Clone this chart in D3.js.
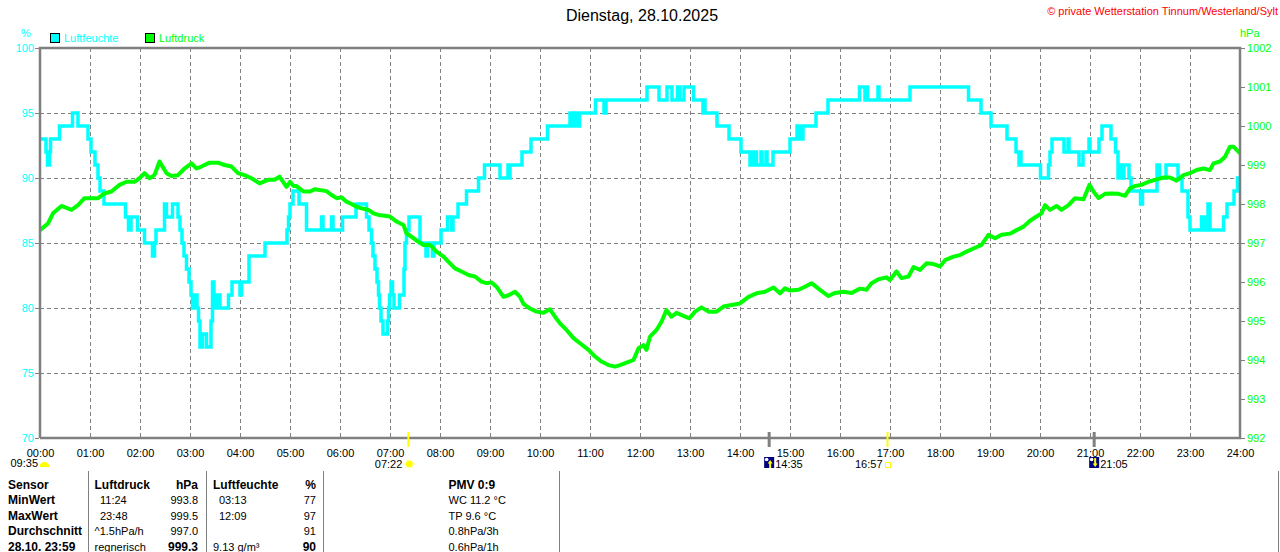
<!DOCTYPE html>
<html>
<head>
<meta charset="utf-8">
<script src="https://cdn.jsdelivr.net/npm/d3@7"></script>
<style>
  body { margin: 0; background: #fff; }
  svg text { font-family: "Liberation Sans", Arial, sans-serif; }
</style>
</head>
<body>
<div id="chart"></div>
<script>
const titleText = "Dienstag, 28.10.2025";
const copyrightText = "\u00a9 private Wetterstation Tinnum/Westerland/Sylt";
const hourLabels = d3.range(0, 25).map(h => String(h).padStart(2, '0') + ':00');
const humidityTicks = [70, 75, 80, 85, 90, 95, 100];
const pressureTicks = [992, 993, 994, 995, 996, 997, 998, 999, 1000, 1001, 1002];

// [hour, %] humidity steps
const humidity = [
  [0.00,93],[0.12,92],[0.15,91],[0.19,92],[0.21,93],[0.39,94],[0.65,95],[0.76,94],[0.96,93],
  [1.02,92],[1.10,91],[1.16,90],[1.20,89],[1.28,88],[1.71,87],[1.77,86],[1.82,87],[1.95,86],
  [2.09,85],[2.25,84],[2.29,85],[2.32,86],[2.49,88],[2.53,87],[2.65,88],[2.76,87],[2.80,86],
  [2.84,85],[2.88,84],[2.93,83],[2.98,82],[3.02,81],[3.05,80],[3.10,81],[3.14,80],[3.17,79],
  [3.20,77],[3.25,78],[3.33,77],[3.42,79],[3.45,82],[3.48,81],[3.51,80],[3.56,81],[3.60,80],
  [3.77,81],[3.84,82],[4.00,81],[4.03,82],[4.18,84],[4.50,85],[4.94,86],[4.97,87],[5.00,88],
  [5.06,89],[5.18,88],[5.33,86],[5.63,87],[5.66,86],[5.83,87],[5.86,86],[6.05,87],[6.32,88],
  [6.53,87],[6.58,86],[6.63,85],[6.66,84],[6.70,83],[6.74,82],[6.77,81],[6.79,80],[6.82,79],
  [6.86,78],[6.95,79],[6.97,80],[6.99,81],[7.02,82],[7.05,81],[7.08,80],[7.19,81],[7.28,83],
  [7.30,85],[7.33,86],[7.38,87],[7.60,85],[7.72,84],[7.75,85],[7.85,84],[7.88,85],[8.02,86],
  [8.15,87],[8.23,86],[8.26,87],[8.36,88],[8.53,89],[8.77,90],[8.89,91],[9.20,90],[9.36,91],
  [9.38,90],[9.40,91],[9.64,92],[9.82,93],[10.15,94],[10.60,95],[10.62,94],[10.66,95],[10.70,94],
  [10.74,95],[10.76,94],[10.79,95],[11.11,96],[11.28,95],[11.32,96],[12.14,97],[12.38,96],
  [12.54,97],[12.64,96],[12.75,97],[12.80,96],[12.88,97],[13.07,96],[13.26,95],[13.28,96],
  [13.30,95],[13.54,94],[13.78,93],[14.02,92],[14.20,91],[14.24,92],[14.26,91],[14.30,92],
  [14.33,91],[14.42,92],[14.44,91],[14.52,92],[14.54,91],[14.66,92],[15.00,93],[15.14,94],
  [15.16,93],[15.20,94],[15.22,93],[15.26,94],[15.52,95],[15.76,96],[16.39,97],[16.50,96],
  [16.53,97],[16.55,96],[16.76,97],[16.78,96],[17.40,97],[18.57,96],[18.82,95],[19.02,94],
  [19.34,93],[19.52,92],[19.58,91],[19.60,92],[19.62,91],[20.01,90],[20.17,91],[20.20,92],
  [20.24,93],[20.48,92],[20.56,93],[20.58,92],[20.78,91],[20.86,92],[20.98,93],[21.00,92],
  [21.18,93],[21.24,94],[21.42,93],[21.51,92],[21.56,90],[21.62,91],[21.64,90],[21.68,91],
  [21.78,90],[21.82,89],[22.01,88],[22.05,89],[22.34,91],[22.39,90],[22.52,91],[22.76,90],
  [22.84,89],[22.96,87],[23.00,86],[23.23,87],[23.30,86],[23.36,88],[23.40,86],[23.67,87],
  [23.74,88],[23.88,89],[23.95,90],[24.00,90]
];

// [hour, hPa]
const pressure = [
  [0.00,997.33],[0.16,997.50],[0.26,997.76],[0.43,997.95],[0.63,997.85],[0.76,997.97],[0.89,998.15],
  [1.16,998.15],[1.29,998.27],[1.43,998.32],[1.59,998.49],[1.73,998.57],[1.89,998.57],[1.99,998.66],
  [2.09,998.79],[2.19,998.66],[2.29,998.74],[2.39,999.09],[2.53,998.79],[2.63,998.72],[2.76,998.74],
  [2.89,998.91],[3.03,999.04],[3.13,998.91],[3.23,998.96],[3.39,999.06],[3.56,999.06],[3.69,999.00],
  [3.83,998.96],[3.96,998.79],[4.09,998.74],[4.23,998.66],[4.39,998.53],[4.56,998.62],[4.69,998.62],
  [4.79,998.70],[4.93,998.44],[5.00,998.57],[5.07,998.46],[5.13,998.46],[5.27,998.32],[5.40,998.32],
  [5.50,998.38],[5.63,998.35],[5.73,998.33],[5.83,998.23],[5.93,998.15],[6.03,998.17],[6.13,998.06],
  [6.23,998.00],[6.33,997.93],[6.43,997.89],[6.57,997.85],[6.67,997.76],[6.77,997.72],[6.90,997.70],
  [7.00,997.68],[7.13,997.55],[7.27,997.46],[7.33,997.25],[7.43,997.16],[7.57,997.03],[7.67,996.95],
  [7.80,996.95],[7.93,996.78],[8.07,996.65],[8.20,996.48],[8.30,996.35],[8.43,996.27],[8.57,996.18],
  [8.70,996.14],[8.83,996.01],[8.93,995.97],[9.03,995.99],[9.13,995.88],[9.27,995.62],[9.37,995.66],
  [9.50,995.75],[9.60,995.62],[9.67,995.44],[9.80,995.32],[9.93,995.24],[10.07,995.21],[10.20,995.30],
  [10.30,995.11],[10.40,994.94],[10.53,994.77],[10.67,994.56],[10.80,994.43],[10.97,994.26],
  [11.10,994.09],[11.23,993.96],[11.37,993.87],[11.50,993.83],[11.60,993.87],[11.73,993.93],
  [11.87,994.00],[11.97,994.30],[12.07,994.38],[12.13,994.26],[12.20,994.60],[12.33,994.77],
  [12.43,994.98],[12.53,995.28],[12.63,995.11],[12.73,995.21],[12.87,995.13],[12.99,995.07],
  [13.10,995.24],[13.23,995.35],[13.37,995.24],[13.53,995.24],[13.67,995.37],[13.83,995.41],
  [14.00,995.45],[14.17,995.62],[14.33,995.71],[14.50,995.75],[14.67,995.86],[14.80,995.71],
  [14.90,995.84],[15.00,995.78],[15.17,995.80],[15.30,995.88],[15.43,995.97],[15.60,995.80],
  [15.77,995.64],[15.90,995.72],[16.07,995.75],[16.23,995.72],[16.40,995.83],[16.53,995.80],
  [16.63,995.97],[16.77,996.07],[16.93,996.12],[17.00,996.05],[17.13,996.27],[17.23,996.10],
  [17.37,996.14],[17.47,996.38],[17.60,996.31],[17.73,996.48],[17.87,996.46],[18.00,996.40],
  [18.10,996.56],[18.27,996.65],[18.40,996.69],[18.53,996.78],[18.67,996.86],[18.83,996.95],
  [18.97,997.21],[19.10,997.12],[19.23,997.21],[19.40,997.24],[19.53,997.33],[19.67,997.42],
  [19.80,997.57],[19.93,997.68],[20.03,997.76],[20.10,997.97],[20.20,997.85],[20.33,997.95],
  [20.43,997.85],[20.57,997.97],[20.70,998.15],[20.87,998.12],[20.99,998.49],[21.07,998.32],
  [21.17,998.15],[21.30,998.26],[21.43,998.27],[21.57,998.26],[21.70,998.21],[21.80,998.40],
  [21.90,998.46],[22.03,998.49],[22.17,998.57],[22.30,998.62],[22.47,998.68],[22.60,998.68],
  [22.73,998.60],[22.87,998.74],[23.00,998.79],[23.13,998.87],[23.27,998.91],[23.40,998.87],
  [23.47,999.04],[23.60,999.09],[23.70,999.21],[23.80,999.47],[23.87,999.47],[24.00,999.30]
];

const sunshineLabel = "09:35";
const eventTimes = ["07:22", "14:35", "16:57", "21:05"];
const eventKinds = ["sunrise", "moonrise", "sunset", "moonset"];

const tableLabels = ["Sensor", "MinWert", "MaxWert", "Durchschnitt", "28.10. 23:59"];
const pressureNotes = ["Luftdruck", "11:24", "23:48", "^1.5hPa/h", "regnerisch"];
const pressureValues = ["hPa", "993.8", "999.5", "997.0", "999.3"];
const humidityNotes = ["Luftfeuchte", "03:13", "12:09", "", "9.13 g/m\u00b3"];
const humidityValues = ["%", "77", "97", "91", "90"];
const extraInfo = ["PMV 0:9", "WC 11.2 \u00b0C", "TP 9.6 \u00b0C", "0.8hPa/3h", "0.6hPa/1h"];

const CYAN = "#00ffff", GREEN = "#00ff00", GRAY = "#808080";

function toHours(s) {
  const [h, m] = s.split(':').map(Number);
  return h + m / 60;
}

const svg = d3.select("#chart").append("svg")
  .attr("width", 1280)
  .attr("height", 552);

const x = d3.scaleLinear().domain([0, 24]).range([40, 1240]);
const yH = d3.scaleLinear().domain([70, 100]).range([438, 48]);
const yP = d3.scaleLinear().domain([992, 1002]).range([438, 48]);

// titles
svg.append("text")
  .attr("x", 642).attr("y", 21)
  .attr("text-anchor", "middle")
  .style("font-size", "16px")
  .text(titleText);

svg.append("text")
  .attr("x", 1278).attr("y", 15)
  .attr("text-anchor", "end")
  .style("font-size", "11px")
  .style("fill", "#ff0000")
  .text(copyrightText);

svg.append("text").attr("x", 26).attr("y", 37).attr("text-anchor", "middle")
  .style("font-size", "11px").style("fill", CYAN).text("%");
svg.append("text").attr("x", 1240).attr("y", 37)
  .style("font-size", "11px").style("fill", GREEN).text("hPa");

// legend
const legend = [["Luftfeuchte", CYAN, 50], ["Luftdruck", GREEN, 145]];
legend.forEach(([name, color, lx]) => {
  svg.append("rect").attr("x", lx + 0.5).attr("y", 33.5).attr("width", 9).attr("height", 9)
    .attr("fill", color).attr("stroke", "#000");
  svg.append("text").attr("x", lx + 14).attr("y", 42)
    .style("font-size", "11px").style("fill", color).text(name);
});

// grid
svg.append("g")
  .selectAll("line")
  .data(d3.range(1, 24))
  .join("line")
  .attr("x1", d => x(d) + 0.5).attr("x2", d => x(d) + 0.5)
  .attr("y1", 48).attr("y2", 438)
  .attr("stroke", GRAY).attr("stroke-dasharray", "4,3");

svg.append("g")
  .selectAll("line")
  .data(humidityTicks.slice(1, -1))
  .join("line")
  .attr("x1", 40).attr("x2", 1240)
  .attr("y1", d => yH(d) + 0.5).attr("y2", d => yH(d) + 0.5)
  .attr("stroke", GRAY).attr("stroke-dasharray", "4,3");

// lines
const humLine = d3.line()
  .x(d => x(d[0]))
  .y(d => yH(d[1]))
  .curve(d3.curveStepAfter);

const presLine = d3.line()
  .x(d => x(d[0]))
  .y(d => yP(d[1]));

svg.append("path")
  .datum(humidity)
  .attr("fill", "none")
  .attr("stroke", CYAN)
  .attr("stroke-width", 3.5)
  .attr("d", humLine);

svg.append("path")
  .datum(pressure)
  .attr("fill", "none")
  .attr("stroke", GREEN)
  .attr("stroke-width", 4)
  .attr("stroke-linejoin", "round")
  .attr("d", presLine);

// frame
svg.append("path")
  .attr("d", "M40,438V48H1240V438H40")
  .attr("fill", "none")
  .attr("stroke", GRAY)
  .attr("stroke-width", 2.5);

// axes
const leftAxis = svg.append("g")
  .attr("transform", "translate(39,0)")
  .call(d3.axisLeft(yH).tickValues(humidityTicks).tickSize(4).tickPadding(1));
leftAxis.select(".domain").remove();
leftAxis.selectAll("line").attr("stroke", GRAY);
leftAxis.selectAll("text").style("font-size", "11px").style("fill", CYAN)
  .style("font-family", "Liberation Sans, Arial, sans-serif");

const rightAxis = svg.append("g")
  .attr("transform", "translate(1241,0)")
  .call(d3.axisRight(yP).tickValues(pressureTicks).tickFormat(d3.format("d"))
    .tickSize(4).tickPadding(2));
rightAxis.select(".domain").remove();
rightAxis.selectAll("line").attr("stroke", GRAY);
rightAxis.selectAll("text").style("font-size", "11px").style("fill", GREEN)
  .style("font-family", "Liberation Sans, Arial, sans-serif");

const bottomAxis = svg.append("g")
  .attr("transform", "translate(0,438)")
  .call(d3.axisBottom(x).tickValues(d3.range(0, 25)).tickFormat(d => hourLabels[d])
    .tickSize(0).tickPadding(11));
bottomAxis.select(".domain").remove();
bottomAxis.selectAll("text").style("font-size", "11px").style("fill", "#000")
  .style("font-family", "Liberation Sans, Arial, sans-serif");

// sun / moon events
svg.append("text").attr("x", 38).attr("y", 467).attr("text-anchor", "end")
  .style("font-size", "11px").text(sunshineLabel);
svg.append("path")
  .attr("d", d3.arc()({ innerRadius: 0, outerRadius: 5, startAngle: -Math.PI / 2, endAngle: Math.PI / 2 }))
  .attr("transform", "translate(44.5,467)")
  .attr("fill", "#ffff00");

const events = svg.append("g");
eventTimes.forEach((label, i) => {
  const kind = eventKinds[i];
  const ex = x(toHours(label));
  const isSun = kind === "sunrise" || kind === "sunset";
  events.append("line")
    .attr("x1", ex).attr("x2", ex).attr("y1", 432).attr("y2", 447)
    .attr("stroke", isSun ? "#ffff00" : GRAY)
    .attr("stroke-width", isSun ? 2 : 3);

  if (kind === "sunrise") {
    const g = events.append("g").attr("transform", `translate(${ex + 1},464)`);
    g.append("circle").attr("r", 3.5).attr("fill", "#ffff00");
    d3.range(8).forEach(k => {
      const a = k * Math.PI / 4;
      g.append("line")
        .attr("x1", Math.cos(a) * 4.5).attr("y1", Math.sin(a) * 4.5)
        .attr("x2", Math.cos(a) * 6).attr("y2", Math.sin(a) * 6)
        .attr("stroke", "#ffff80").attr("stroke-width", 1);
    });
    events.append("text").attr("x", ex - 6).attr("y", 468).attr("text-anchor", "end")
      .style("font-size", "11px").text(label);
  } else if (kind === "sunset") {
    events.append("rect").attr("x", ex - 2).attr("y", 462.5).attr("width", 5).attr("height", 5)
      .attr("fill", "none").attr("stroke", "#ffff00");
    events.append("text").attr("x", ex - 5).attr("y", 468).attr("text-anchor", "end")
      .style("font-size", "11px").text(label);
  } else {
    const g = events.append("g").attr("transform", `translate(${ex - 5},457)`);
    g.append("rect").attr("width", 10).attr("height", 11).attr("fill", "#000080");
    g.append("circle").attr("cx", 2.5).attr("cy", 2.5).attr("r", 1.8).attr("fill", "#fff");
    const up = kind === "moonrise";
    g.append("path")
      .attr("d", up ? "M6,3L3.5,6.5H5V11H7V6.5H8.5Z" : "M6,10L3.5,6.5H5V1H7V6.5H8.5Z")
      .attr("fill", "#ffff00");
    events.append("text").attr("x", ex + 6).attr("y", 468)
      .style("font-size", "11px").text(label);
  }
});

// table
const table = svg.append("g");
[88.5, 206.5, 323.5, 559.5, 1278.5].forEach(sx => {
  table.append("line").attr("x1", sx).attr("x2", sx).attr("y1", 471).attr("y2", 552)
    .attr("stroke", GRAY);
});

const rowY = d3.range(5).map(i => 488.5 + i * 15.5);
const isTime = s => /^\d\d:\d\d$/.test(s);

function cell(tx, ty, txt, anchor, bold) {
  table.append("text")
    .attr("x", tx).attr("y", ty)
    .attr("text-anchor", anchor)
    .style("font-size", bold ? "12px" : "11px")
    .style("font-weight", bold ? "bold" : "normal")
    .text(txt);
}

tableLabels.forEach((lab, i) => {
  const ty = rowY[i];
  const head = i === 0, last = i === tableLabels.length - 1;
  cell(8, ty, lab, "start", true);
  cell(isTime(pressureNotes[i]) ? 100 : 94.5, ty, pressureNotes[i], "start", head);
  cell(198, ty, pressureValues[i], "end", head || last);
  cell(isTime(humidityNotes[i]) ? 219 : 213, ty, humidityNotes[i], "start", head);
  cell(316, ty, humidityValues[i], "end", head || last);
  cell(448.5, ty, extraInfo[i], "start", head);
});
</script>
</body>
</html>
